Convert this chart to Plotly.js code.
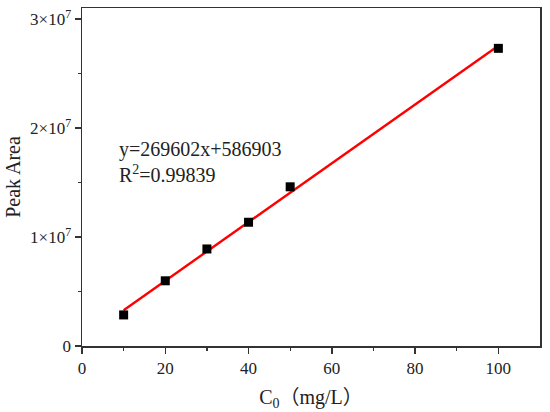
<!DOCTYPE html>
<html>
<head>
<meta charset="utf-8">
<script src="https://cdn.plot.ly/plotly-3.0.1.min.js"></script>
<style>html,body{margin:0;padding:0;background:#fff;}#chart{width:550px;height:412px;}</style>
</head>
<body>
<div id="chart"></div>
<script>
const concX = [10, 20, 30, 40, 50, 100];
const peakArea = [2.85e6, 5.98e6, 8.9e6, 1.135e7, 1.46e7, 2.73e7];
const fitX = [10, 100];
const fitY = [3282923, 27547103];
const yTickVals = [0, 1e7, 2e7, 3e7];
const yTickText = ['0', '1×10<sup>7</sup>', '2×10<sup>7</sup>', '3×10<sup>7</sup>'];
const xTickVals = [0, 20, 40, 60, 80, 100];
const eqText = 'y=269602x+586903<br>R<sup>2</sup>=0.99839';

const family = '"Liberation Serif", "Times New Roman", "Noto Sans CJK SC", serif';
const tickFont = {family: family, size: 17, color: '#222'};
const titleFont = {family: family, size: 20, color: '#222'};

const traces = [
  {x: fitX, y: fitY, mode: 'lines', line: {color: '#ff0000', width: 2.4}, hoverinfo: 'skip', showlegend: false},
  {x: concX, y: peakArea, mode: 'markers', marker: {symbol: 'square', size: 9, color: '#000'}, showlegend: false}
];

const axisCommon = {
  showgrid: false, zeroline: false, showline: true, linecolor: '#333', linewidth: 1.5,
  mirror: true, ticks: 'outside', ticklen: 6, tickwidth: 1.5, tickcolor: '#333',
  tickfont: tickFont
};

const layout = {
  width: 550, height: 412,
  margin: {l: 82, r: 10, t: 8, b: 66},
  paper_bgcolor: '#fff', plot_bgcolor: '#fff',
  font: tickFont,
  xaxis: Object.assign({}, axisCommon, {
    range: [0, 110], tickvals: xTickVals, ticktext: xTickVals.map(String),
    minor: {tickvals: [10, 30, 50, 70, 90], ticks: 'outside', ticklen: 3, tickwidth: 1.2, tickcolor: '#333'},
    title: {text: 'C<sub>0</sub>（mg/L）', font: titleFont, standoff: 13}
  }),
  yaxis: Object.assign({}, axisCommon, {
    range: [0, 3.1e7], tickvals: yTickVals, ticktext: yTickText,
    minor: {tickvals: [0.5e7, 1.5e7, 2.5e7], ticks: 'outside', ticklen: 3, tickwidth: 1.2, tickcolor: '#333'},
    title: {text: 'Peak Area', font: titleFont, standoff: 4}
  }),
  annotations: [{
    x: 8.3, y: 1.69e7, xref: 'x', yref: 'y', xanchor: 'left', yanchor: 'middle',
    text: eqText, showarrow: false, align: 'left',
    font: {family: family, size: 20, color: '#222'}
  }]
};

Plotly.newPlot('chart', traces, layout, {displayModeBar: false, staticPlot: true});
</script>
</body>
</html>
